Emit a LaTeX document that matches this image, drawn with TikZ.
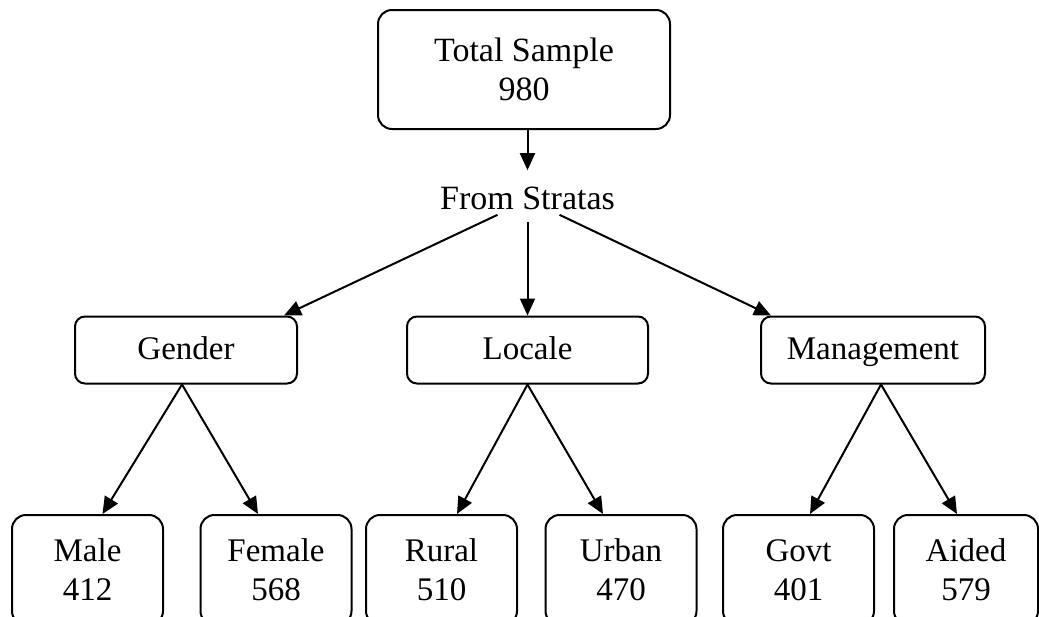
\documentclass[tikz,border=0pt]{standalone}
\usepackage{fontspec}
\setmainfont{Liberation Serif}
\usetikzlibrary{arrows.meta}

\begin{document}
\begin{tikzpicture}[x=0.5pt,y=-0.5pt,
	box/.style={draw,line width=1pt,rounded corners=7pt,align=center,inner sep=0pt,
		font=\fontsize{16.5}{19.5}\selectfont},
	leaf/.style={box,minimum width=75.5pt,minimum height=55pt},
	mid/.style={box,minimum height=33.5pt,rounded corners=5pt,text height=12.5pt,text depth=3.3pt},
	arr/.style={-{Triangle[length=8.5pt,width=7.5pt]},line width=1pt}]

	\useasboundingbox (0,0) rectangle (1039,616);

	% top
	\node[box,minimum width=146pt,minimum height=59.5pt,font=\fontsize{17}{19.5}\selectfont] (total) at (524,69.5) {Total Sample\\980};
	\node[font=\fontsize{17}{20}\selectfont,inner sep=1pt] (strata) at (527.5,198) {From Stratas};
	\draw[arr] (total.south -| strata.north) -- ([yshift=7pt]strata.north);

	% strata
	\node[mid,minimum width=111pt] (gender) at (186,350) {Gender};
	\node[mid,minimum width=120.5pt] (locale) at (527.5,350) {Locale};
	\node[mid,minimum width=112pt] (mgmt) at (873,350) {Management};
	\draw[arr] ([xshift=-15pt,yshift=-1.5pt]strata.south) -- ([xshift=-7pt]gender.north east);
	\draw[arr] ([yshift=-5pt]strata.south) -- (locale.north);
	\draw[arr] ([xshift=16pt,yshift=-1.5pt]strata.south) -- ([xshift=5.5pt]mgmt.north west);

	% groups
	\node[leaf] (male) at (87.5,570) {Male\\412};
	\node[leaf] (female) at (276,570) {Female\\568};
	\node[leaf] (rural) at (441.5,570) {Rural\\510};
	\node[leaf] (urban) at (621,570) {Urban\\470};
	\node[leaf] (govt) at (798.5,570) {Govt\\401};
	\node[leaf,minimum width=72pt] (aided) at (966,570) {Aided\\579};

	\draw[arr] ([xshift=-2pt]gender.south) -- ([xshift=7.5pt]male.north);
	\draw[arr] ([xshift=-2pt]gender.south) -- ([xshift=-9pt]female.north);
	\draw[arr] (locale.south) -- ([xshift=7.75pt]rural.north);
	\draw[arr] (locale.south) -- ([xshift=-9pt]urban.north);
	\draw[arr] ([xshift=4pt]mgmt.south) -- ([xshift=5.75pt]govt.north);
	\draw[arr] ([xshift=4pt]mgmt.south) -- ([xshift=-4.5pt]aided.north);

\end{tikzpicture}
\end{document}
